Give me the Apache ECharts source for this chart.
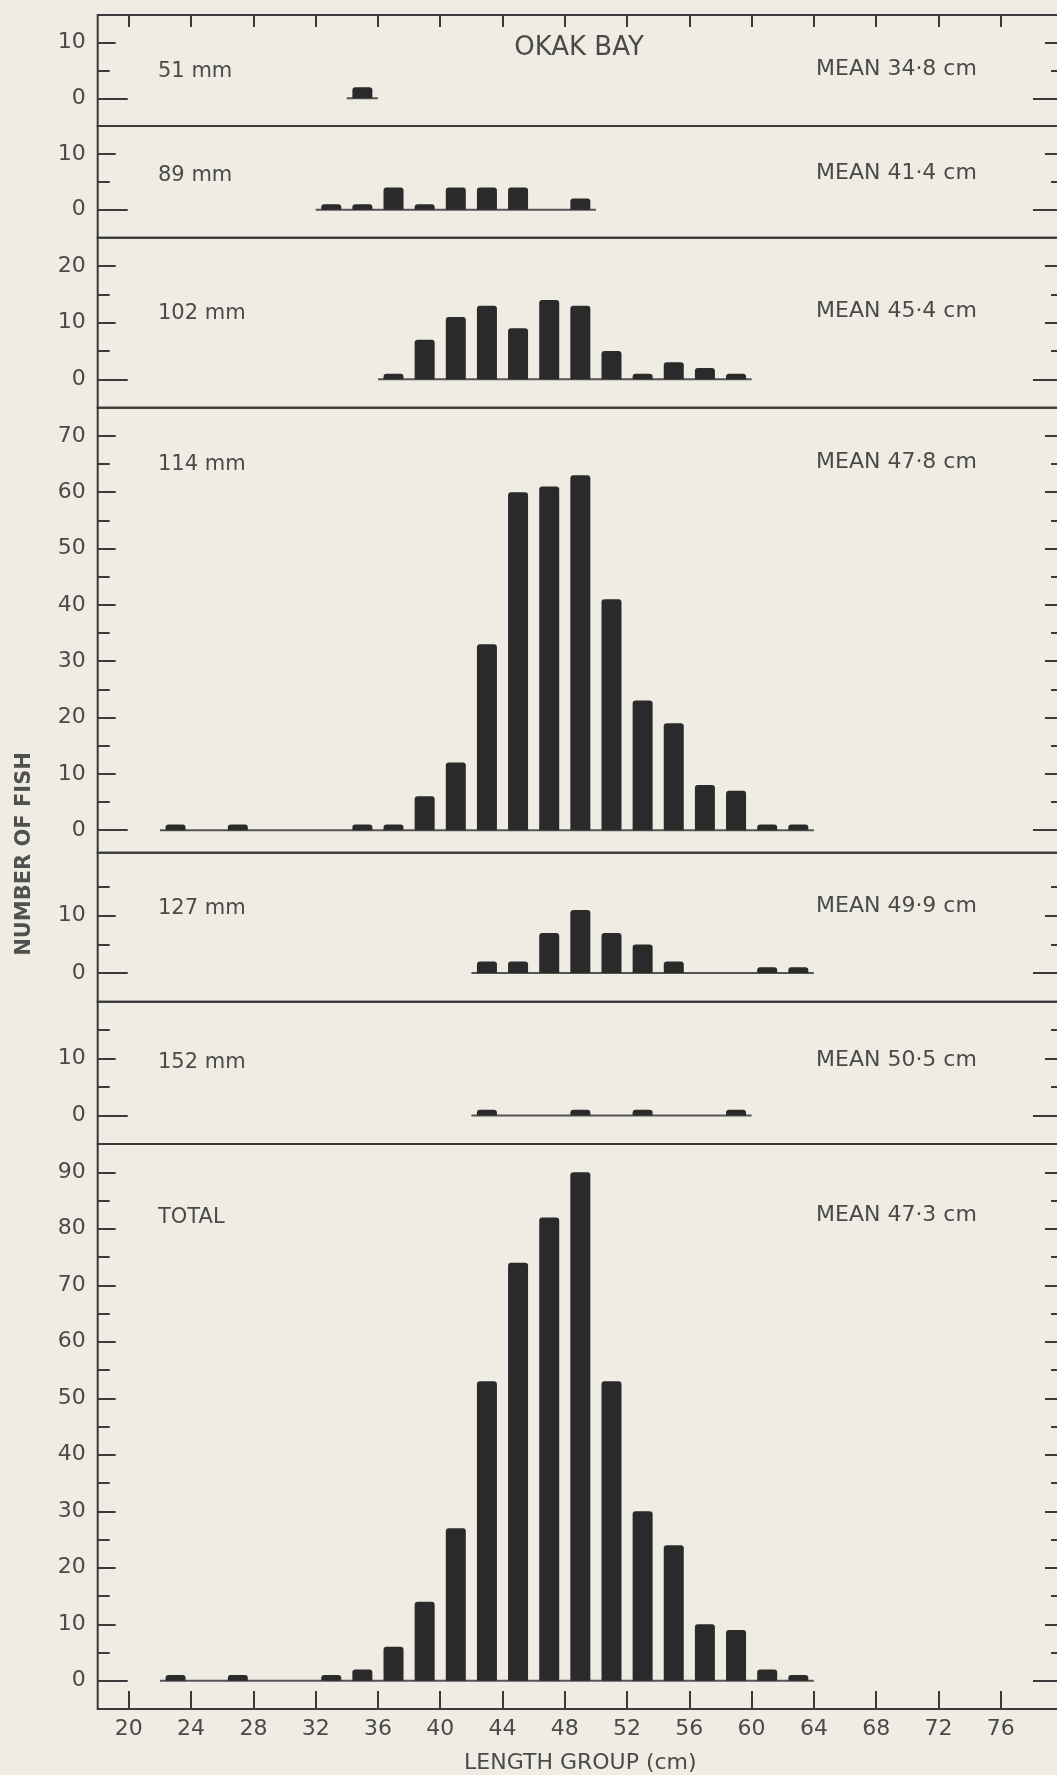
<!DOCTYPE html>
<html>
<head>
<meta charset="utf-8">
<script src="https://cdn.jsdelivr.net/npm/echarts@6/dist/echarts.min.js"></script>
<style>
html,body{margin:0;padding:0;background:#efece3;}
#c{width:1057px;height:1775px;}
</style>
</head>
<body>
<div id="c"></div>
<script>
// ---- data (length group midpoints in cm, number of fish) ----
const panelLabels = ['51 mm', '89 mm', '102 mm', '114 mm', '127 mm', '152 mm', 'TOTAL'];
const meanLabels = ['MEAN 34·8 cm', 'MEAN 41·4 cm', 'MEAN 45·4 cm', 'MEAN 47·8 cm', 'MEAN 49·9 cm', 'MEAN 50·5 cm', 'MEAN 47·3 cm'];

const len51 = [35];
const n51 = [2];
const len89 = [33, 35, 37, 39, 41, 43, 45, 49];
const n89 = [1, 1, 4, 1, 4, 4, 4, 2];
const len102 = [37, 39, 41, 43, 45, 47, 49, 51, 53, 55, 57, 59];
const n102 = [1, 7, 11, 13, 9, 14, 13, 5, 1, 3, 2, 1];
const len114 = [23, 27, 35, 37, 39, 41, 43, 45, 47, 49, 51, 53, 55, 57, 59, 61, 63];
const n114 = [1, 1, 1, 1, 6, 12, 33, 60, 61, 63, 41, 23, 19, 8, 7, 1, 1];
const len127 = [43, 45, 47, 49, 51, 53, 55, 61, 63];
const n127 = [2, 2, 7, 11, 7, 5, 2, 1, 1];
const len152 = [43, 49, 53, 59];
const n152 = [1, 1, 1, 1];
const lenTotal = [23, 27, 33, 35, 37, 39, 41, 43, 45, 47, 49, 51, 53, 55, 57, 59, 61, 63];
const nTotal = [1, 1, 1, 2, 6, 14, 27, 53, 74, 82, 90, 53, 30, 24, 10, 9, 2, 1];

// baseline extent of each panel (cm)
const baseFrom = [34, 32, 36, 22, 42, 42, 22];
const baseTo = [36, 50, 60, 64, 64, 60, 64];

// tick labels
const xTickLabels = [20, 24, 28, 32, 36, 40, 44, 48, 52, 56, 60, 64, 68, 72, 76];
const yTickLabels = [
  [0, 10], [0, 10], [0, 10, 20],
  [0, 10, 20, 30, 40, 50, 60, 70],
  [0, 10], [0, 10],
  [0, 10, 20, 30, 40, 50, 60, 70, 80, 90]
];

// ---- layout ----
const lens = [len51, len89, len102, len114, len127, len152, lenTotal];
const counts = [n51, n89, n102, n114, n127, n152, nTotal];
const yMin = [-5, -5, -5, -4, -5, -5, -5];
const yMax = [15, 15, 25, 75, 21, 20, 95];
const gridTop = [15, 126, 237.7, 407.7, 852.7, 1001.7, 1144];
const gridBottom = [126, 237.7, 407.7, 852.7, 1001.7, 1144, 1709];
const labelY = [72, 176, 314, 465, 909, 1063, 1218];

const FONT = 'DejaVu Sans';
const TXT = '#4a4a4a';
const LINE = '#3a3a3a';
const BAR = '#2a2a2a';

const grids = [], xAxes = [], yAxes = [], series = [];
for (let i = 0; i < 7; i++) {
  grids.push({
    left: 97.7, width: 965.3, top: gridTop[i], height: gridBottom[i] - gridTop[i],
    show: true, borderColor: LINE, borderWidth: 2, backgroundColor: 'transparent',
    containLabel: false, outerBoundsMode: 'none'
  });
  const isTop = i === 0, isBottom = i === 6;
  xAxes.push({
    type: 'value', gridIndex: i, min: 18, max: 80,
    position: isTop ? 'top' : 'bottom',
    splitLine: { show: false },
    axisLine: { show: false, onZero: false },
    axisTick: {
      show: isTop || isBottom, inside: true, length: isTop ? 12 : 18,
      customValues: xTickLabels, lineStyle: { color: LINE, width: 2 }
    },
    axisLabel: {
      show: isBottom, customValues: xTickLabels, margin: 9,
      fontSize: 22, color: TXT, fontFamily: FONT
    },
    name: isBottom ? 'LENGTH GROUP (cm)' : '',
    nameLocation: 'middle', nameGap: 43,
    nameTextStyle: { fontSize: 22, color: TXT, fontFamily: FONT }
  });
  const labels = yTickLabels[i];
  const major = labels.filter(v => v > 0);
  const minor = [];
  for (let v = 5; v < yMax[i]; v += 10) minor.push(v);
  const tickSets = [[major, 18], [minor, 12], [[0], 30]];
  ['left', 'right'].forEach(pos => {
    tickSets.forEach(([vals, len], k) => {
      yAxes.push({
        type: 'value', gridIndex: i, min: yMin[i], max: yMax[i], position: pos,
        splitLine: { show: false },
        axisLine: { show: false, onZero: false },
        axisTick: { show: true, inside: true, length: len, customValues: vals, lineStyle: { color: LINE, width: 2 } },
        axisLabel: {
          show: pos === 'left' && k === 0, customValues: labels, margin: 12,
          fontSize: 22, color: TXT, fontFamily: FONT
        }
      });
    });
  });
  series.push({
    type: 'line', xAxisIndex: i, yAxisIndex: i * 6, silent: true,
    data: [[baseFrom[i], 0], [baseTo[i], 0]],
    symbol: 'none', lineStyle: { color: '#555', width: 2 }, z: 1
  });
  series.push({
    type: 'bar', xAxisIndex: i, yAxisIndex: i * 6, silent: true,
    data: lens[i].map((x, j) => [x, counts[i][j]]),
    barWidth: 20,
    itemStyle: { color: BAR, borderRadius: [3, 3, 0, 0] }, z: 2
  });
}

const graphics = [
  { type: 'text', x: 579, y: 48, style: { text: 'OKAK BAY', font: '26px "' + FONT + '"', fill: TXT, align: 'center', verticalAlign: 'middle' } },
  { type: 'text', x: 25, y: 854, rotation: Math.PI / 2, style: { text: 'NUMBER OF FISH', font: 'bold 21px "' + FONT + '"', fill: '#505050', align: 'center', verticalAlign: 'middle' } }
];
for (let i = 0; i < 7; i++) {
  graphics.push({ type: 'text', x: 158, y: labelY[i], style: { text: panelLabels[i], font: '21px "' + FONT + '"', fill: TXT, align: 'left', verticalAlign: 'middle' } });
  graphics.push({ type: 'text', x: 816, y: labelY[i] - 3, style: { text: meanLabels[i], font: '22px "' + FONT + '"', fill: TXT, align: 'left', verticalAlign: 'middle' } });
}

const chart = echarts.init(document.getElementById('c'), null, { renderer: 'canvas' });
chart.setOption({
  backgroundColor: '#efece3',
  animation: false,
  grid: grids,
  xAxis: xAxes,
  yAxis: yAxes,
  series: series,
  graphic: graphics
});
</script>
</body>
</html>
